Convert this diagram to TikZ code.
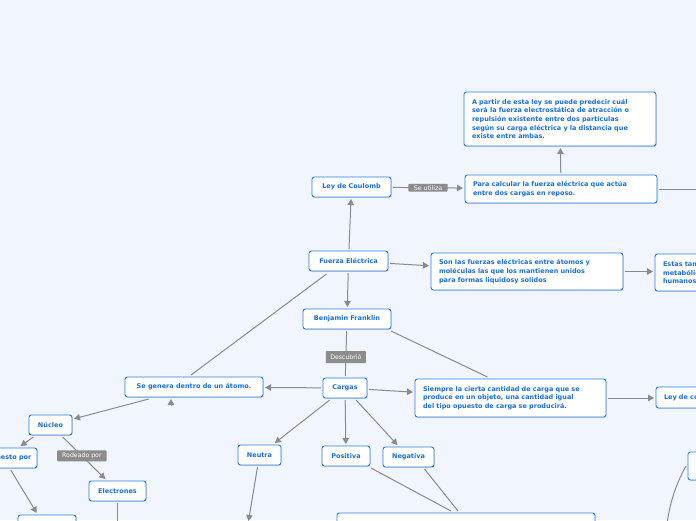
\documentclass[tikz,border=0pt]{standalone}
\usepackage{fontspec}
\setmainfont{DejaVu Sans}
\usetikzlibrary{arrows.meta,shadows}
\definecolor{bgc}{RGB}{241,245,254}
\definecolor{bordc}{RGB}{40,125,230}
\definecolor{txtc}{RGB}{25,110,215}
\definecolor{linec}{RGB}{138,138,138}
\definecolor{lblc}{RGB}{140,140,140}
\tikzset{
  mbox/.style={draw=bordc, line width=0.9pt, fill=white, rounded corners=2.5pt,
    text=txtc, font=\fontsize{6.5}{8.6}\selectfont\bfseries, inner sep=0pt, outer sep=2pt,
    drop shadow={shadow xshift=0.6pt, shadow yshift=-0.9pt, opacity=0.25, fill=black!60}},
  tbox/.style={mbox, align=left},
  lbl/.style={fill=lblc, text=white, font=\fontsize{6.2}{7}\selectfont, rounded corners=0.8pt,
    inner xsep=5pt, inner ysep=2pt},
  conn/.style={draw=linec, line width=1pt},
  arr/.style={conn, -{Triangle[length=6pt,width=6.5pt]}}
}
\begin{document}
\begin{tikzpicture}[x=1pt,y=-1pt]
\path[use as bounding box, fill=bgc] (0,0) rectangle (696,520);
\clip (0,0) rectangle (696,520);

% nodes
\node[mbox, minimum width=79pt, minimum height=20pt] (ley) at (351.5,187) {Ley de Coulomb};
\node[tbox, minimum width=192pt, minimum height=28pt, text width=176pt] (para) at (561,189)
  {Para calcular la fuerza eléctrica que actúa\\entre dos cargas en reposo.};
\node[tbox, minimum width=192pt, minimum height=54pt, text width=176pt] (apartir) at (560,119)
  {A partir de esta ley se puede predecir cuál\\será la fuerza electrostática de atracción o\\repulsión existente entre dos partículas\\según su carga eléctrica y la distancia que\\existe entre ambas.};
\node[mbox, minimum width=79pt, minimum height=20pt] (fuerza) at (348.5,261) {Fuerza Eléctrica};
\node[tbox, minimum width=192pt, minimum height=37pt, text width=176pt] (son) at (527,271.5)
  {Son las fuerzas eléctricas entre átomos y\\moléculas las que los mantienen unidos\\para formas liquidosy solidos};
\node[tbox, minimum width=130pt, minimum height=37pt, text width=114pt] (estas) at (720,272.5)
  {Estas también\\metabólicos\\humanos};
\node[mbox, minimum width=88pt, minimum height=20pt] (benjamin) at (347,319) {Benjamin Franklin};
\node[mbox, minimum width=44pt, minimum height=20pt] (cargas) at (345,388) {Cargas};
\node[tbox, minimum width=191pt, minimum height=38pt, text width=175pt] (siempre) at (510.5,398)
  {Siempre la cierta cantidad de carga que se\\produce en un objeto, una cantidad igual\\del tipo opuesto de carga se producirá.};
\node[tbox, minimum width=144pt, minimum height=21pt, text width=128pt] (leyc) at (728,397.5)
  {Ley de conservación};
\node[mbox, minimum width=138pt, minimum height=20pt] (segenera) at (194,387) {Se genera dentro de un átomo.};
\node[mbox, minimum width=43pt, minimum height=20pt] (nucleo) at (50.5,425) {Núcleo};
\node[mbox, minimum width=67pt, minimum height=20pt] (compuesto) at (3.5,458) {Compuesto por};
\node[mbox, minimum width=57pt, minimum height=20pt] (electrones) at (117.5,491) {Electrones};
\node[mbox, minimum width=43pt, minimum height=20pt] (neutra) at (259.5,455) {Neutra};
\node[mbox, minimum width=48pt, minimum height=20pt] (positiva) at (346,456) {Positiva};
\node[mbox, minimum width=51pt, minimum height=20pt] (negativa) at (408.5,457) {Negativa};
\node[mbox, minimum width=258pt, minimum height=48pt] (bigbox) at (466,537) {};
\node[mbox, minimum width=58pt, minimum height=30pt] (blbox) at (47,530) {};
\node[mbox, minimum width=64pt, minimum height=28pt] (rbox) at (720,466) {};

\coordinate (paraout) at (700,189);
\coordinate (neutraout) at (248.5,521);
\coordinate (elecout) at (117.5,525);
\coordinate (curveend) at (667,524);

% connectors
\draw[arr] (ley) -- node[lbl, inner ysep=1.5pt, inner xsep=5.5pt] {Se utiliza} (para);
\draw[arr] (para) -- (apartir);
\draw[conn] (para) -- (paraout);
\draw[arr] (fuerza) -- (ley);
\draw[arr] (fuerza) -- (son);
\draw[arr] (son) -- (estas.west |- son);
\draw[arr] (fuerza) -- (benjamin);
\draw[conn] (benjamin) -- node[lbl, pos=0.58, inner ysep=3.5pt, inner xsep=4.5pt] {Descubrió} (cargas);
\draw[conn] ([xshift=-2pt]benjamin.south east) -- ([xshift=-23pt]siempre.north);
\draw[conn] ([xshift=-22pt,yshift=-1pt]fuerza.south) -- ([xshift=-3pt]segenera.north);
\draw[arr] (cargas) -- (siempre);
\draw[arr] (siempre.east |- 0,398) -- (leyc.west |- 0,398);
\draw[arr] (cargas) -- (segenera);
\draw[arr] (cargas) -- (neutra);
\draw[arr] (cargas) -- (positiva);
\draw[arr] (cargas) -- (negativa);
\draw[arr] (segenera) -- (nucleo);
\draw[arr] ([xshift=-23pt,yshift=-6pt]segenera.south) -- ([xshift=-23pt]segenera.south);
\draw[arr] (nucleo) -- (compuesto);
\draw[arr] (nucleo) -- node[lbl, pos=0.45, inner ysep=2.5pt] {Rodeado por} (electrones);
\draw[conn] (electrones) -- (elecout);
\draw[arr] (compuesto) -- (blbox);
\draw[arr] (neutra) -- (neutraout);
\draw[conn] ([xshift=-1pt]positiva.south east) -- ([xshift=-15pt]bigbox.north);
\draw[conn] ([xshift=16pt]negativa.south) -- ([xshift=-8pt]bigbox.north);
\draw[conn] (rbox.west) .. controls (678,480) and (670,500) .. (curveend);
\end{tikzpicture}
\end{document}
